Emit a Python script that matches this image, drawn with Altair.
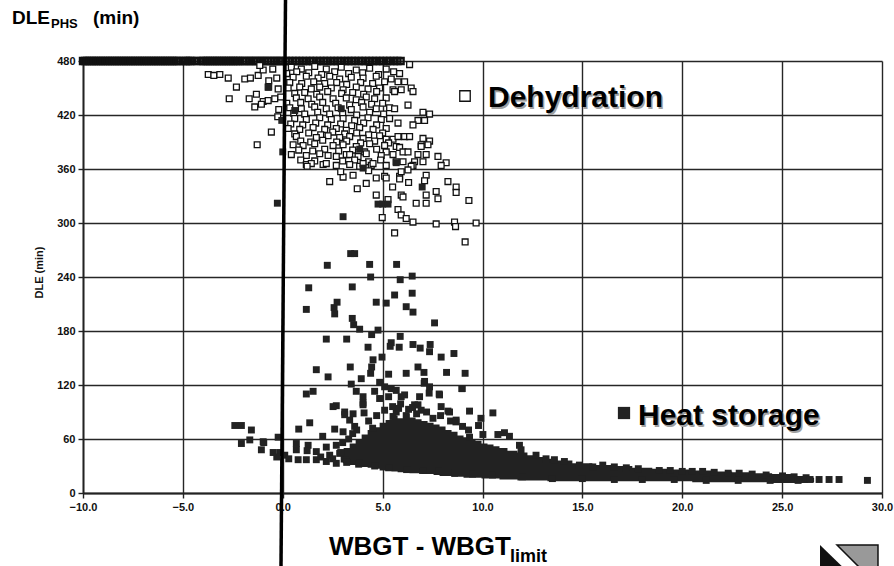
import altair as alt
import pandas as pd

# ---------------- data ----------------
x_ticks = [-10, -5, 0, 5, 10, 15, 20, 25, 30]
y_ticks = [0, 60, 120, 180, 240, 300, 360, 420, 480]

ceiling_value = 480
ceiling_x = [-10.0, -9.9, -9.79, -9.67, -9.56, -9.45, -9.33, -9.22, -9.1, -8.99, -8.87, -8.76, -8.64,
             -8.53, -8.41, -8.3, -8.18, -8.07, -7.95, -7.84, -7.72, -7.61, -7.49, -7.38, -7.26, -7.15,
             -7.03, -6.92, -6.8, -6.69, -6.57, -6.46, -6.34, -6.23, -6.11, -6.0, -5.88, -5.77, -5.65,
             -5.54, -5.42, -5.31, -5.19, -4.98, -4.86, -4.75, -4.63, -4.52, -4.3, -4.09, -3.97, -3.86,
             -3.74, -3.63, -3.51, -3.4, -3.28, -3.17, -3.05, -2.94, -2.82, -2.71, -2.59, -2.48, -2.36,
             -2.25, -2.13, -1.98, -1.85, -1.7, -1.57, -1.43, -1.3, -1.15, -1.02, -0.88, -0.74, -0.6,
             -0.45, -0.31, -0.17, -0.03, 0.15, 0.32, 0.49, 0.66, 0.83, 1.0, 1.18, 1.36, 1.52, 1.7, 1.88,
             2.05, 2.22, 2.4, 2.58, 2.75, 2.92, 3.1, 3.28, 3.45, 3.62, 3.8, 3.97, 4.15, 4.33, 4.5, 4.68,
             4.86, 5.03, 5.21, 5.38, 5.56, 5.74, 5.9]

dehydration_pts = [
    (-3.73, 465), (-3.45, 464), (-3.15, 465), (-2.73, 461), (-2.32, 451), (-1.9, 460), (-1.62, 461),
    (-1.23, 464), (-0.98, 470), (-2.68, 438), (-1.68, 438), (-1.32, 443), (-0.98, 435), (-1.4, 429),
    (-1.07, 432), (-0.73, 436), (-0.73, 451), (-0.23, 449), (-0.4, 438), (-0.57, 401), (-1.28, 387),
    (-0.2, 426), (-0.5, 471), (-0.3, 461), (-1.15, 475), (-0.7, 458), (-0.1, 440), (-0.25, 418),
    (0.43, 473), (0.93, 471), (1.6, 474), (2.18, 471), (2.93, 473), (3.68, 470), (4.35, 472), (5.18, 471), (5.55, 468),
    (0.2, 466), (0.7, 468), (1.3, 467), (1.95, 465), (2.6, 468), (3.3, 466), (4.0, 467), (4.8, 465), (5.85, 466),
    (0.52, 462), (1.18, 463), (1.77, 461), (2.35, 463), (2.85, 460), (3.43, 462), (4.02, 461), (4.68, 463), (5.43, 460),
    (0.35, 456), (0.95, 455), (1.55, 457), (2.1, 455), (2.7, 456), (3.2, 454), (3.9, 456), (4.5, 455), (5.1, 457),
    (5.77, 457), (6.1, 457),
    (0.27, 450), (0.85, 451), (1.43, 449), (1.85, 451), (2.43, 450), (3.02, 448), (3.68, 451), (4.27, 449),
    (4.85, 450), (5.52, 448), (6.43, 450),
    (0.6, 444), (1.1, 445), (1.7, 443), (2.25, 446), (2.95, 444), (3.5, 445), (4.05, 443), (4.7, 446), (5.6, 446),
    (5.93, 448), (6.52, 446),
    (0.68, 439), (1.27, 438), (1.85, 440), (2.52, 438), (3.18, 439), (3.68, 437), (4.18, 440), (4.6, 438), (5.18, 439),
    (0.2, 433), (0.9, 434), (1.45, 432), (2.0, 434), (2.65, 433), (3.35, 431), (3.95, 434), (4.45, 432), (5.0, 433),
    (6.27, 431),
    (0.35, 428), (0.93, 427), (1.6, 429), (2.18, 427), (2.77, 428), (3.43, 426), (4.02, 429), (4.68, 427), (5.35, 428),
    (5.6, 427),
    (0.55, 422), (1.1, 421), (1.75, 423), (2.35, 421), (3.0, 422), (3.7, 420), (4.35, 423), (5.05, 421), (7.02, 423),
    (7.35, 421),
    (0.6, 416), (1.18, 415), (1.85, 417), (2.43, 415), (3.02, 416), (3.6, 414), (4.27, 417), (4.93, 415), (5.35, 416),
    (6.77, 414), (7.1, 414),
    (0.4, 410), (1.0, 409), (1.65, 411), (2.25, 409), (2.9, 410), (3.45, 408), (4.05, 411), (4.7, 409), (5.77, 411),
    (6.52, 409),
    (0.27, 405), (0.85, 404), (1.52, 406), (2.1, 404), (2.68, 405), (3.18, 403), (3.85, 406), (4.52, 404), (5.18, 405),
    (0.6, 399), (1.3, 400), (1.9, 398), (2.5, 401), (3.1, 399), (3.7, 400), (4.3, 398), (5.0, 400),
    (0.68, 396), (1.68, 395), (2.27, 397), (2.85, 395), (3.35, 396), (4.02, 394), (4.85, 397), (5.52, 393),
    (5.77, 396), (6.1, 396), (6.35, 396), (5.18, 393), (7.02, 394), (7.35, 391),
    (0.9, 391), (1.4, 390), (2.0, 392), (2.7, 390), (3.2, 391), (3.9, 389), (4.6, 391), (5.3, 389), (6.93, 387),
    (7.27, 387),
    (0.52, 387), (1.02, 386), (1.6, 388), (2.52, 386), (3.02, 387), (3.68, 385), (4.35, 388), (5.1, 386),
    (5.68, 385), (5.85, 384),
    (0.8, 381), (1.5, 380), (2.1, 382), (2.8, 380), (3.5, 381), (4.1, 379), (4.7, 382), (5.18, 379), (6.02, 379),
    (6.27, 379), (6.93, 385),
    (0.43, 376), (1.18, 375), (1.85, 377), (2.27, 375), (3.18, 376), (3.77, 374), (4.18, 377), (4.93, 375),
    (5.52, 376), (6.77, 376), (7.18, 376), (7.77, 374),
    (0.9, 370), (1.6, 369), (2.68, 374), (3.35, 376), (3.0, 369), (3.6, 370), (4.3, 368), (4.9, 370), (5.68, 368),
    (6.02, 368), (7.02, 368), (6.6, 368), (8.18, 367),
    (1.18, 365), (1.43, 366), (2.02, 365), (2.18, 366), (2.68, 364), (3.35, 365), (3.85, 363), (4.02, 366),
    (4.43, 364), (4.52, 366), (5.18, 364), (6.52, 364), (6.43, 363), (7.93, 364), (1.22, 363),
    (2.35, 346), (3.02, 351), (3.52, 353), (3.73, 338), (4.18, 344), (4.68, 350), (4.68, 331), (5.1, 352),
    (5.27, 326), (4.98, 306), (5.85, 352), (5.93, 331), (6.27, 359), (5.93, 357), (5.18, 350), (5.85, 349),
    (7.18, 353), (7.1, 347), (8.27, 346), (8.68, 340), (8.68, 334), (7.68, 335), (7.77, 327), (7.18, 331),
    (7.18, 322), (6.68, 322), (6.02, 329), (9.32, 325), (5.77, 315), (5.93, 309), (6.18, 305), (6.52, 301),
    (7.68, 299), (8.6, 301), (8.65, 296), (9.68, 300), (5.6, 289), (9.13, 279), (4.3, 358), (2.9, 357),
    (5.5, 340), (6.3, 345), (6.35, 476),
]

heat_storage_pts = [
    # scattered high values
    (-0.27, 322), (3.02, 307), (3.4, 266), (3.6, 266), (2.23, 253), (4.35, 254), (5.7, 254), (4.4, 240),
    (5.88, 237), (6.48, 241), (1.3, 228), (3.48, 229), (5.6, 220), (6.48, 222), (1.18, 204), (2.57, 206),
    (2.6, 199), (2.72, 212), (4.68, 212), (5.18, 211), (6.18, 207), (6.52, 201), (3.48, 194), (3.55, 187),
    (3.85, 182), (4.45, 176), (4.77, 181), (7.6, 189), (2.18, 171), (3.2, 171), (4.27, 162), (5.88, 174),
    (5.43, 167), (5.38, 163), (5.83, 162), (6.52, 165), (6.88, 161), (7.38, 165), (7.35, 157), (7.93, 151),
    (8.57, 155), (4.52, 148), (4.97, 151), (4.45, 140), (4.4, 133), (1.68, 137), (2.27, 129), (3.38, 140),
    (5.3, 132), (6.18, 133), (6.77, 140), (7.07, 134), (8.2, 134), (9.13, 133), (3.93, 127), (3.43, 121),
    (4.85, 123), (5.1, 118), (1.18, 110), (1.52, 113), (3.68, 113), (4.6, 113), (5.43, 116), (5.68, 114),
    (7.08, 122), (7.33, 111), (7.83, 110), (8.97, 116), (4.02, 107), (4.85, 105), (5.3, 107), (5.93, 107),
    (6.85, 107), (2.68, 97), (4.02, 100), (6.77, 98), (7.93, 96), (9.35, 91), (10.52, 89), (3.1, 90),
    (3.52, 88), (4.07, 89), (5.68, 90), (8.27, 91), (3.35, 81), (1.35, 78), (5.52, 85), (6.18, 86),
    (7.52, 83), (8.67, 79), (9.92, 83), (6.1, 109), (7.85, 109), (8.98, 116), (8.35, 90), (6.6, 98),
    (6.93, 92), (7.1, 124), (7.35, 118), (2.52, 96), (4.02, 98),
    # inside the dehydration cloud
    (3.85, 382), (4.02, 361), (4.77, 321), (5.0, 321), (5.27, 321), (6.98, 340), (5.68, 367), (0.6, 425),
    (0.0, 379), (-0.05, 414), (-0.7, 451), (2.93, 427),
    # low values on the left
    (-2.4, 75), (-2.07, 75), (-1.57, 70), (-1.65, 59), (-2.07, 55), (-1.07, 48), (-0.98, 57), (-0.48, 45),
    (-0.15, 45), (-0.23, 62), (0.1, 42), (0.8, 71), (0.68, 55), (0.68, 48), (1.27, 53), (1.22, 47),
    (0.77, 37), (1.18, 37), (2.0, 63), (1.68, 46), (2.18, 51), (2.35, 42), (2.6, 71), (2.68, 53),
    (1.68, 37), (2.18, 35), (2.68, 33), (3.02, 68), (2.85, 44), (3.18, 37), (3.1, 87), (-0.95, 56),
    (-0.3, 40), (0.3, 38), (1.9, 40), (2.5, 38), (3.0, 56), (2.9, 45), (3.3, 60), (3.6, 74), (3.85, 33),
    # ragged top of the dense cloud
    (4.3, 80), (4.7, 86), (5.1, 92), (5.5, 96), (5.9, 99), (6.3, 93), (6.7, 88), (7.2, 90), (7.9, 86),
    (8.4, 80), (9.0, 74), (3.7, 70), (4.5, 72), (3.5, 66), (5.8, 94), (6.5, 95),
    # ragged upper edge of the dense band
    (9.35, 62), (9.3, 70), (10.02, 65), (10.77, 65), (11.1, 67), (11.35, 63), (11.85, 53), (11.93, 48),
    (12.68, 42), (13.18, 38), (13.6, 37), (14.1, 35), (14.85, 31), (15.52, 29), (16.02, 31), (16.6, 29),
    (17.2, 28), (17.8, 27), (18.85, 25), (19.4, 25), (20.0, 24), (20.5, 24), (21.02, 24), (21.6, 23),
    (22.3, 22), (22.85, 22), (23.5, 21), (24.2, 20), (25.02, 19), (25.6, 18), (26.2, 17), (26.85, 15),
    (27.35, 15), (27.85, 15), (29.27, 14), (8.68, 81), (9.8, 75),
    # ragged lower edge of the dense band
    (3.2, 34), (3.8, 32), (4.6, 30), (5.3, 28), (6.2, 26), (7.0, 25), (7.8, 24), (8.6, 22), (9.5, 21),
    (10.5, 20), (12.0, 18), (13.5, 16), (15.0, 16), (16.6, 15), (18.0, 15), (19.6, 15), (21.2, 14),
    (22.8, 14), (24.4, 14), (25.8, 14), (26.4, 15),
]

# saturated core of the heat-storage cloud (where markers overlap into a solid mass)
core_x = [2.9, 3.2, 3.5, 3.8, 4.1, 4.4, 4.7, 5.0, 5.3, 5.6, 5.9, 6.2, 6.5, 6.8, 7.1, 7.4, 7.7, 8.0,
          8.3, 8.6, 8.9, 9.2, 9.5, 9.8, 10.1, 10.4, 10.7, 11.0, 11.5, 12.0, 12.5, 13.0, 13.5, 14.0,
          15.0, 16.0, 17.0, 18.0, 19.0, 20.0, 21.0, 22.0, 23.0, 24.0, 25.0, 26.0, 26.6]
core_lo = [34, 33, 31, 30, 29, 28, 27, 25, 25, 24, 23, 23, 22, 22, 21, 21, 20, 19, 19, 18, 18, 17,
           17, 17, 16, 16, 16, 15, 15, 14, 14, 14, 13, 13, 13, 13, 13, 13, 13, 13, 12, 12, 12, 12,
           11, 11, 12]
core_hi = [44, 50, 55, 60, 65, 70, 73, 78, 81, 86, 83, 88, 84, 82, 80, 78, 76, 74, 70, 68, 64, 62,
           60, 58, 55, 54, 52, 50, 47, 45, 42, 40, 38, 36, 33, 31, 30, 28, 27, 26, 25, 24, 23, 22,
           21, 19, 17]

# ---------------- tables ----------------
ceiling_df = pd.DataFrame({"x": ceiling_x, "y": [ceiling_value] * len(ceiling_x)})
dehy_df = pd.DataFrame(dehydration_pts, columns=["x", "y"])
heat_df = pd.DataFrame(heat_storage_pts, columns=["x", "y"])
core_df = pd.DataFrame({"x": core_x, "lo": core_lo, "hi": core_hi})

W, H = 799, 432
LAB = "Liberation Sans, Arial, Helvetica, sans-serif"
BOLD = "Liberation Sans, Arial, Helvetica, sans-serif"
INK = "#222222"

xs = alt.Scale(domain=[-10, 30], nice=False, zero=False)
ys = alt.Scale(domain=[0, 480], nice=False)

x_axis = alt.Axis(values=x_ticks, format=".1f", title=None, grid=True, gridColor="#262626",
                  gridWidth=1.4, domainColor=INK, domainWidth=1.8, tickColor=INK, tickSize=5,
                  tickWidth=1.4, labelFont=LAB, labelFontSize=11, labelFontWeight="bold",
                  labelColor="#111111", labelPadding=3, labelFlush=False, labelOverlap=False)
y_axis = alt.Axis(values=y_ticks, format="d", title="DLE (min)", grid=True, gridColor="#262626",
                  gridWidth=1.4, domainColor=INK, domainWidth=1.8, tickColor=INK, tickSize=5,
                  tickWidth=1.4, labelFont=LAB, labelFontSize=11, labelFontWeight="bold",
                  labelColor="#111111", labelPadding=3, labelOverlap=False,
                  titleFont=LAB, titleFontSize=11, titleFontWeight="bold", titleColor="#111111",
                  titleAngle=-90, titleX=-44, titleY=211, titleAlign="center", titleBaseline="middle")


def X(field="x"):
    return alt.X(f"{field}:Q", scale=xs, axis=x_axis)


def Y(field="y"):
    return alt.Y(f"{field}:Q", scale=ys, axis=y_axis)


ceiling = alt.Chart(ceiling_df).mark_square(size=36, filled=False, stroke="#111111",
                                            strokeWidth=2.4, opacity=1).encode(x=X(), y=Y())
dehy = alt.Chart(dehy_df).mark_square(size=34, fill="white", stroke="#111111", strokeWidth=1.3,
                                      opacity=1).encode(x=X(), y=Y())
core = alt.Chart(core_df).mark_area(color=INK, opacity=1, interpolate="step").encode(
    x=X(), y=alt.Y("lo:Q", scale=ys, axis=y_axis), y2="hi:Q")
heat = alt.Chart(heat_df).mark_square(size=48, color=INK, opacity=1).encode(x=X(), y=Y())

# thick vertical reference line near WBGT - WBGTlimit = 0 (runs past the plot)
ref_line = alt.Chart(pd.DataFrame({"a": [0]})).mark_rule(color="black", strokeWidth=3.5).encode(
    x=alt.value(202.5), x2=alt.value(198), y=alt.value(-61), y2=alt.value(505))


def text(t, x, y, size, color="black", align="left", weight="bold"):
    return alt.Chart(pd.DataFrame({"t": [t]})).mark_text(
        align=align, baseline="alphabetic", font=BOLD, fontSize=size, fontWeight=weight,
        color=color).encode(text="t:N", x=alt.value(x), y=alt.value(y))


labels = [
    text("DLE", -71, -37, 19),
    text("PHS", -32, -33, 13),
    text("(min)", 10, -37, 19),
    text("WBGT - WBGT", 246, 494, 26),
    text("limit", 427, 501, 18),
    text("Dehydration", 406.5, 47.5, 30, color="#a0a0a0"),
    text("Dehydration", 405, 46, 30),
    text("Heat storage", 556.5, 365.5, 30, color="#a0a0a0"),
    text("Heat storage", 555, 364, 30),
]

legend_dehy = alt.Chart(pd.DataFrame({"a": [0]})).mark_square(
    size=110, fill="white", stroke="#111111", strokeWidth=1.3, opacity=1).encode(
    x=alt.value(382), y=alt.value(35))
legend_heat = alt.Chart(pd.DataFrame({"a": [0]})).mark_square(
    size=150, color=INK, opacity=1).encode(x=alt.value(541), y=alt.value(352))

icon_black = alt.Chart(pd.DataFrame({"a": [0]})).mark_point(
    shape="M -1 -0.333 L 0.033 0.667 L -1 0.667 Z", size=3600, filled=True, fill="#111111",
    strokeWidth=0, opacity=1).encode(x=alt.value(767), y=alt.value(494))
icon_grey = alt.Chart(pd.DataFrame({"a": [0]})).mark_point(
    shape="M -0.433 -0.333 L 0.933 -0.333 L 0.933 0.667 L 0.567 0.667 Z", size=3600, filled=True,
    fill="#999999", stroke="#111111", strokeWidth=1.5, opacity=1).encode(x=alt.value(767), y=alt.value(494))

chart = alt.layer(
    core, ceiling, dehy, heat, ref_line, legend_dehy, legend_heat, icon_black, icon_grey, *labels
).properties(
    width=W, height=H,
    padding={"left": 83, "top": 61, "right": 12, "bottom": 73},
    autosize=alt.AutoSizeParams(type="none"),
    background="white",
).configure_view(stroke=None)

chart.save("out.html", embed_options={"renderer": "svg", "actions": False})
